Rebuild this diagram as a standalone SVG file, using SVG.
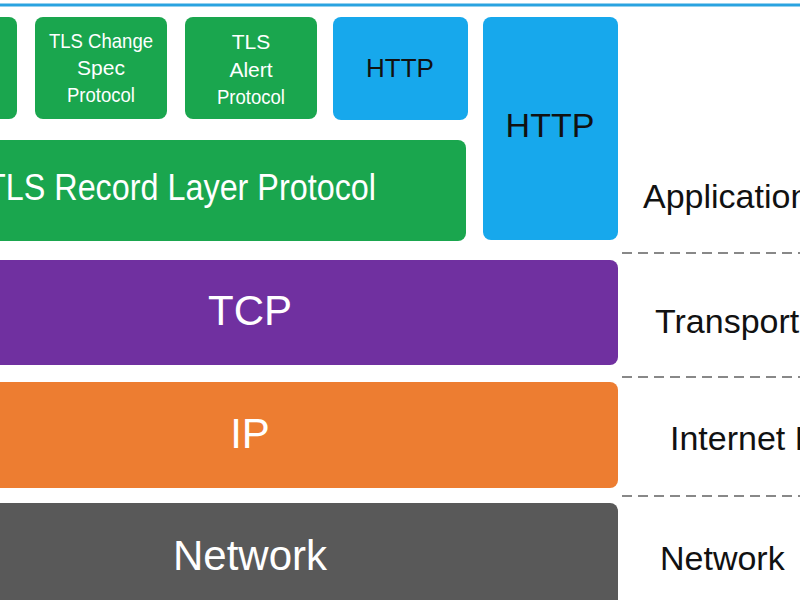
<svg xmlns="http://www.w3.org/2000/svg" width="800" height="600" viewBox="0 0 800 600">
<style>
.w{fill:#fff;font-family:"Liberation Sans",Arial,sans-serif;text-anchor:middle}
.k{fill:#111;font-family:"Liberation Sans",Arial,sans-serif;font-size:34px}
.d{stroke:#888;stroke-width:2;stroke-dasharray:10,6;fill:none}
</style>
<rect width="800" height="600" fill="#fff"/>
<line x1="0" y1="5" x2="800" y2="5" stroke="#2aa3e0" stroke-width="3"/>
<g id="tls-left"><rect x="-20" y="17" width="37" height="102" rx="8" fill="#1aa64e"/></g>
<g id="tls-change"><rect x="35" y="17" width="132" height="102" rx="8" fill="#1aa64e"/>
<text class="w" font-size="21" x="101" y="48" textLength="104" lengthAdjust="spacingAndGlyphs">TLS Change</text><text class="w" font-size="21" x="101" y="75">Spec</text><text class="w" font-size="21" x="101" y="102" textLength="68" lengthAdjust="spacingAndGlyphs">Protocol</text></g>
<g id="tls-alert"><rect x="185" y="17" width="132" height="102" rx="8" fill="#1aa64e"/>
<text class="w" font-size="21" x="251" y="49">TLS</text><text class="w" font-size="21" x="251" y="77">Alert</text><text class="w" font-size="21" x="251" y="104" textLength="68" lengthAdjust="spacingAndGlyphs">Protocol</text></g>
<g id="http-small"><rect x="333" y="17" width="135" height="103" rx="8" fill="#17a8ec"/>
<text x="400" y="77" font-size="26" fill="#111" text-anchor="middle" font-family="Liberation Sans,Arial,sans-serif">HTTP</text></g>
<g id="http-tall"><rect x="483" y="17" width="135" height="223" rx="8" fill="#17a8ec"/>
<text x="550" y="137" font-size="34" fill="#111" text-anchor="middle" font-family="Liberation Sans,Arial,sans-serif">HTTP</text></g>
<g id="tls-record"><rect x="-20" y="140" width="486" height="101" rx="8" fill="#1aa64e"/>
<text x="-14" y="200" font-size="37" fill="#fff" font-family="Liberation Sans,Arial,sans-serif" textLength="390" lengthAdjust="spacingAndGlyphs">TLS Record Layer Protocol</text></g>
<g id="tcp"><rect x="-20" y="260" width="638" height="105" rx="8" fill="#7030a0"/>
<text class="w" font-size="42" x="250" y="325">TCP</text></g>
<g id="ip"><rect x="-20" y="382" width="638" height="106" rx="8" fill="#ed7d31"/>
<text class="w" font-size="42" x="250" y="448">IP</text></g>
<g id="network"><rect x="-20" y="503" width="638" height="120" rx="8" fill="#595959"/>
<text class="w" font-size="42" x="250" y="570">Network</text></g>
<g id="connectors">
<line class="d" x1="622" y1="253" x2="800" y2="253"/>
<line class="d" x1="622" y1="377" x2="800" y2="377"/>
<line class="d" x1="622" y1="496" x2="800" y2="496"/>
</g>
<g id="labels">
<text class="k" x="643" y="208">Application</text>
<text class="k" x="655" y="333">Transport</text>
<text class="k" x="670" y="450">Internet Layer</text>
<text class="k" x="660" y="570">Network</text>
</g>
</svg>
